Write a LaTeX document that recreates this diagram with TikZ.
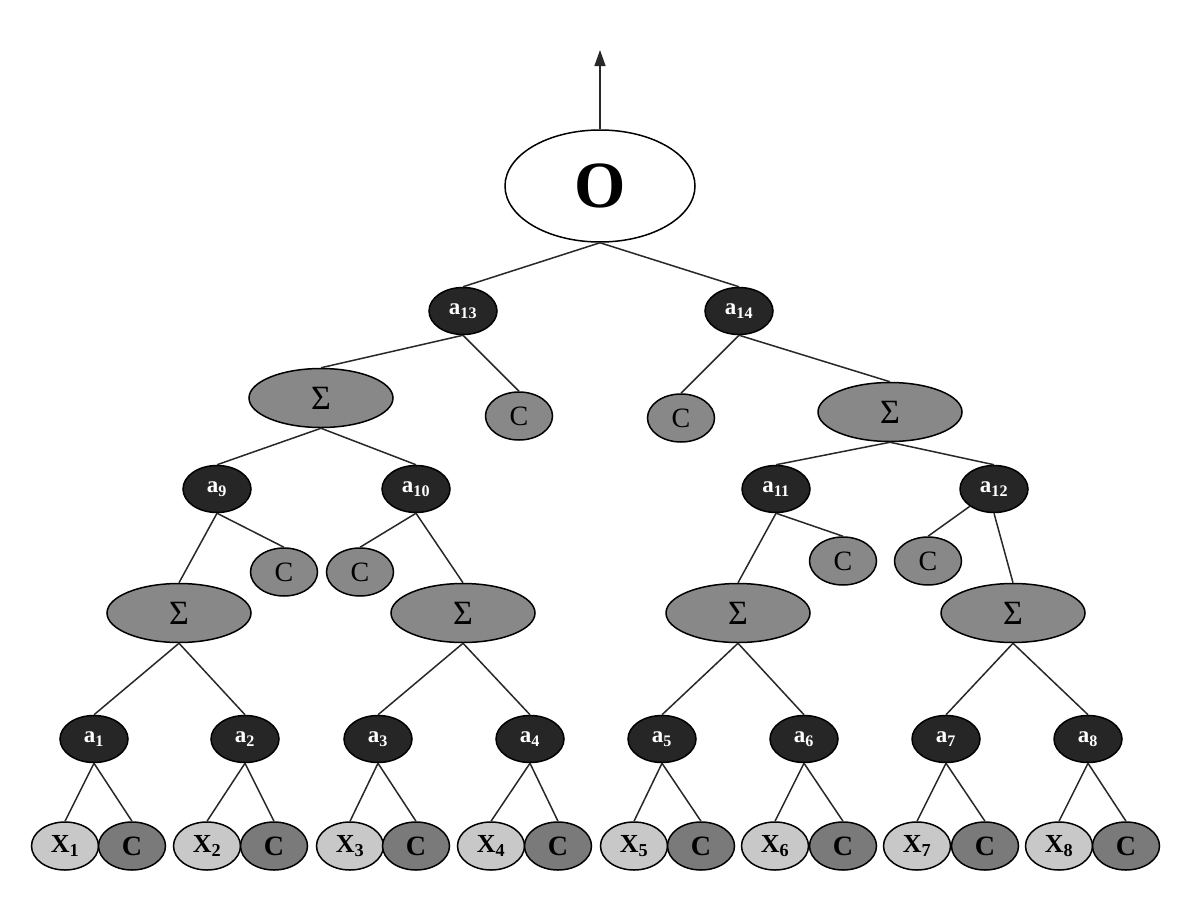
\documentclass[tikz,border=0pt]{standalone}
\usepackage{fontspec}
\setmainfont{Liberation Serif}
\usetikzlibrary{shapes.geometric,arrows.meta}
\definecolor{darknode}{RGB}{38,38,38}
\definecolor{midnode}{RGB}{136,136,136}
\definecolor{leafc}{RGB}{122,122,122}
\definecolor{leafx}{RGB}{200,200,200}
\definecolor{edgecol}{RGB}{40,40,40}
\begin{document}
\begin{tikzpicture}[x=1pt,y=-1pt,
  base/.style={ellipse, draw=black, line width=1.5pt, inner sep=0pt},
  onode/.style={base, fill=white, minimum width=190pt, minimum height=112pt, font=\fontsize{66}{66}\selectfont\bfseries},
  anode/.style={base, fill=darknode, minimum width=68pt, minimum height=47pt, text=white, font=\fontsize{23}{23}\selectfont\bfseries},
  signode/.style={base, fill=midnode, minimum width=144pt, minimum height=59pt, font=\fontsize{34}{34}\selectfont},
  cnode/.style={base, fill=midnode, minimum width=67pt, minimum height=48pt, font=\fontsize{28}{28}\selectfont},
  xleaf/.style={base, fill=leafx, minimum width=67pt, minimum height=48pt, font=\fontsize{26}{26}\selectfont\bfseries},
  cleaf/.style={base, fill=leafc, minimum width=67pt, minimum height=48pt, font=\fontsize{28}{28}\selectfont\bfseries},
  link/.style={draw=edgecol, line width=1.5pt}
]
\useasboundingbox (0,0) rectangle (1200,921);
\fill[white] (0,0) rectangle (1200,921);

% top
\node[onode] (O) at (600,186) {O};
\coordinate (top) at (600,50);

% level 1
\node[anode] (a13) at (463,311) {a\textsubscript{13}};
\node[anode] (a14) at (739,311) {a\textsubscript{14}};

% level 2
\node[signode] (sL) at (321,398) {Σ};
\node[cnode] (cA) at (519,416) {C};
\node[cnode] (cB) at (681,418) {C};
\node[signode] (sR) at (890,412) {Σ};

% level 3
\node[anode] (a9) at (217,489) {a\textsubscript{9}};
\node[anode] (a10) at (416,489) {a\textsubscript{10}};
\node[anode] (a11) at (776,489) {a\textsubscript{11}};
\node[anode] (a12) at (994,489) {a\textsubscript{12}};

% level 4
\node[cnode] (c9) at (284,572) {C};
\node[cnode] (c10) at (360,572) {C};
\node[cnode] (c11) at (843,561) {C};
\node[cnode] (c12) at (928,561) {C};
\node[signode] (s1) at (179,613) {Σ};
\node[signode] (s2) at (463,613) {Σ};
\node[signode] (s3) at (738,613) {Σ};
\node[signode] (s4) at (1013,613) {Σ};

% level 5
\node[anode] (a1) at (94,739) {a\textsubscript{1}};
\node[anode] (a2) at (245,739) {a\textsubscript{2}};
\node[anode] (a3) at (378,739) {a\textsubscript{3}};
\node[anode] (a4) at (530,739) {a\textsubscript{4}};
\node[anode] (a5) at (662,739) {a\textsubscript{5}};
\node[anode] (a6) at (804,739) {a\textsubscript{6}};
\node[anode] (a7) at (946,739) {a\textsubscript{7}};
\node[anode] (a8) at (1088,739) {a\textsubscript{8}};

% leaves
\node[xleaf] (x1) at (65,846) {X\textsubscript{1}};
\node[cleaf] (k1) at (132,846) {C};
\node[xleaf] (x2) at (207,846) {X\textsubscript{2}};
\node[cleaf] (k2) at (274,846) {C};
\node[xleaf] (x3) at (350,846) {X\textsubscript{3}};
\node[cleaf] (k3) at (416,846) {C};
\node[xleaf] (x4) at (491,846) {X\textsubscript{4}};
\node[cleaf] (k4) at (558,846) {C};
\node[xleaf] (x5) at (634,846) {X\textsubscript{5}};
\node[cleaf] (k5) at (701,846) {C};
\node[xleaf] (x6) at (775,846) {X\textsubscript{6}};
\node[cleaf] (k6) at (843,846) {C};
\node[xleaf] (x7) at (917,846) {X\textsubscript{7}};
\node[cleaf] (k7) at (985,846) {C};
\node[xleaf] (x8) at (1059,846) {X\textsubscript{8}};
\node[cleaf] (k8) at (1126,846) {C};

% connectors
\draw[link, -{Triangle[length=16pt,width=11pt]}] (O.north) -- (top);
\draw[link] (O.south) -- (a13.north);
\draw[link] (O.south) -- (a14.north);
\draw[link] (a13.south) -- (sL.north);
\draw[link] (a13.south) -- (cA.north);
\draw[link] (a14.south) -- (cB.north);
\draw[link] (a14.south) -- (sR.north);
\draw[link] (sL.south) -- (a9.north);
\draw[link] (sL.south) -- (a10.north);
\draw[link] (sR.south) -- (a11.north);
\draw[link] (sR.south) -- (a12.north);
\draw[link] (a9.south) -- (s1.north);
\draw[link] (a9.south) -- (c9.north);
\draw[link] (a10.south) -- (c10.north);
\draw[link] (a10.south) -- (s2.north);
\draw[link] (a11.south) -- (s3.north);
\draw[link] (a11.south) -- (c11.north);
\draw[link] (a12) -- (c12.north);
\draw[link] (a12.south) -- (s4.north);
\foreach \s/\l/\r in {s1/a1/a2, s2/a3/a4, s3/a5/a6, s4/a7/a8}{
  \draw[link] (\s.south) -- (\l.north);
  \draw[link] (\s.south) -- (\r.north);
}
\foreach \i in {1,...,8}{
  \draw[link] (a\i.south) -- (x\i.north);
  \draw[link] (a\i.south) -- (k\i.north);
}
\end{tikzpicture}
\end{document}
